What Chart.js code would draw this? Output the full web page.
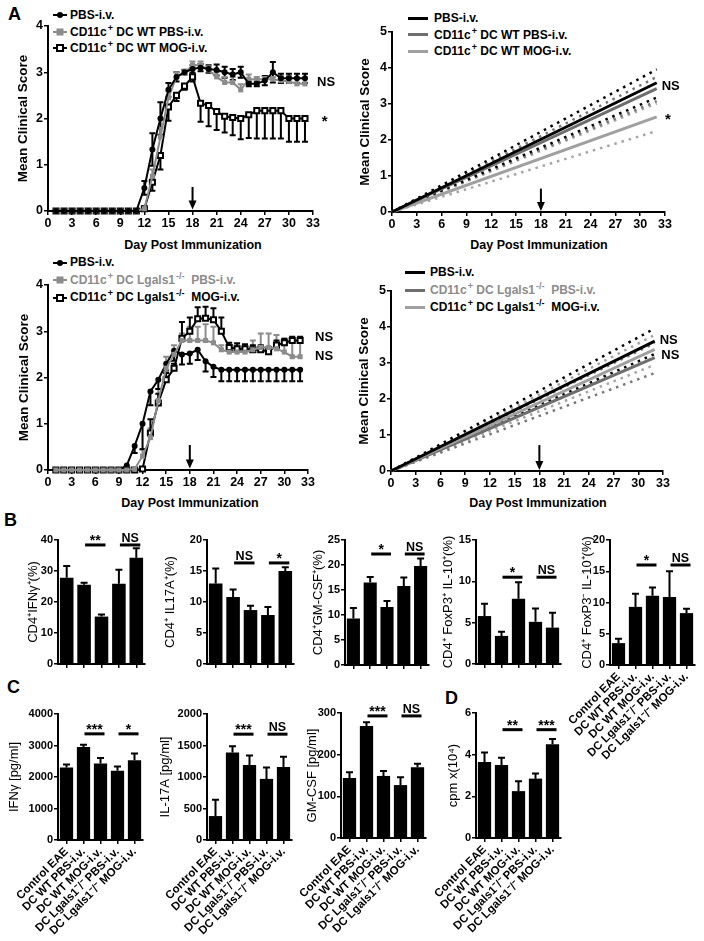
<!DOCTYPE html>
<html lang="en">
<head>
<meta charset="UTF-8">
<meta name="viewport" content="width=device-width, initial-scale=1.0">
<title>EAE clinical scores and T cell responses</title>
<script src="https://cdn.jsdelivr.net/npm/chart.js@4.4.1/dist/chart.umd.min.js"></script>
<style>
  body { margin: 0; background: #fff; }
  #page { position: relative; width: 704px; height: 941px; overflow: hidden;
          font-family: "Liberation Sans", Arial, Helvetica, sans-serif; color: #000; }
  #page canvas { position: absolute; }
  .tag { position: absolute; font-weight: bold; font-size: 18px; line-height: 18px; }
  .xt { position: absolute; font-weight: bold; font-size: 12.5px; line-height: 14px;
        white-space: nowrap; transform: translateX(-50%); }
  .lg { position: absolute; font-weight: bold; font-size: 12px; white-space: nowrap; }
  .lg div { display: flex; align-items: center; }
  .lg sup { font-size: 9px; line-height: 0; vertical-align: 5px; margin-left: 1px; }
  .sw { position: relative; flex: none; height: 2px; background: #000; }
  .sw b { position: absolute; left: 50%; top: 50%; transform: translate(-50%, -50%); }
  .dot b { width: 6px; height: 6px; border-radius: 50%; background: #000; }
  .gsq { background: #8c8c8c; }
  .gsq b { width: 7px; height: 7px; background: #8c8c8c; }
  .osq b { width: 4px; height: 4px; border: 2px solid #000; background: #fff; }
  .gray { color: #8c8c8c; }
</style>
</head>
<body>
<div id="page">
  <div class="tag" style="left:8px;top:5px">A</div>
  <div class="tag" style="left:4px;top:511px">B</div>
  <div class="tag" style="left:7px;top:678px">C</div>
  <div class="tag" style="left:445px;top:689px">D</div>

  <!-- legends, panel A -->
  <div class="lg" style="left:53px;top:7px;line-height:16.5px">
    <div><span class="sw dot" style="width:14px;margin-right:3px"><b></b></span><span>PBS-i.v.</span></div>
    <div><span class="sw gsq" style="width:14px;margin-right:3px"><b></b></span><span>CD11c<sup>+</sup> DC WT PBS-i.v.</span></div>
    <div><span class="sw osq" style="width:14px;margin-right:3px"><b></b></span><span>CD11c<sup>+</sup> DC WT MOG-i.v.</span></div>
  </div>
  <div class="lg" style="left:408px;top:10px;line-height:16.5px">
    <div><span class="sw" style="width:20px;height:3px;margin-right:6px"></span><span>PBS-i.v.</span></div>
    <div><span class="sw" style="width:20px;height:3px;margin-right:6px;background:#6e6e6e"></span><span>CD11c<sup>+</sup> DC WT PBS-i.v.</span></div>
    <div><span class="sw" style="width:20px;height:3px;margin-right:6px;background:#a0a0a0"></span><span>CD11c<sup>+</sup> DC WT MOG-i.v.</span></div>
  </div>
  <div class="lg" style="left:53px;top:254px;line-height:17.5px">
    <div><span class="sw dot" style="width:14px;margin-right:3px"><b></b></span><span>PBS-i.v.</span></div>
    <div class="gray"><span class="sw gsq" style="width:14px;margin-right:3px"><b></b></span><span>CD11c<sup>+</sup> DC Lgals1<sup>-/-</sup>&nbsp;&nbsp;PBS-i.v.</span></div>
    <div><span class="sw osq" style="width:14px;margin-right:3px"><b></b></span><span>CD11c<sup>+</sup> DC Lgals1<sup>-/-</sup>&nbsp;&nbsp;MOG-i.v.</span></div>
  </div>
  <div class="lg" style="left:405px;top:264px;line-height:17.5px">
    <div><span class="sw" style="width:20px;height:3px;margin-right:5px"></span><span>PBS-i.v.</span></div>
    <div class="gray"><span class="sw" style="width:20px;height:3px;margin-right:5px;background:#6e6e6e"></span><span>CD11c<sup>+</sup> DC Lgals1<sup>-/-</sup>&nbsp;&nbsp;PBS-i.v.</span></div>
    <div><span class="sw" style="width:20px;height:3px;margin-right:5px;background:#a0a0a0"></span><span>CD11c<sup>+</sup> DC Lgals1<sup>-/-</sup>&nbsp;&nbsp;MOG-i.v.</span></div>
  </div>

  <div class="xt" style="left:193px;top:238px">Day Post Immunization</div>
  <div class="xt" style="left:539px;top:238px">Day Post Immunization</div>
  <div class="xt" style="left:190px;top:496px">Day Post Immunization</div>
  <div class="xt" style="left:538px;top:496px">Day Post Immunization</div>
</div>

<script>
const FONT = '"Liberation Sans", Arial, Helvetica, sans-serif';
Chart.defaults.font.family = FONT;
Chart.defaults.color = '#000';

// ---- Panel A: mean clinical score per day ----
const days = [1, 2, 3, 4, 5, 6, 7, 8, 9, 10, 11, 12, 13, 14, 15, 16,
              17, 18, 19, 20, 21, 22, 23, 24, 25, 26, 27, 28, 29, 30, 31, 32];

// top row: WT dendritic cells
const wtPbs      = [0,0,0,0,0,0,0,0,0,0,0, 0.5,1.33,2.0,2.62,2.9,3.0,3.07,3.1,3.07,3.05,3.0,2.95,3.0,2.75,2.75,2.82,3.0,2.87,2.87,2.87,2.87];
const wtPbsErr   = [0,0,0,0,0,0,0,0,0,0,0, 0.15,0.35,0.35,0.15,0.1,0.05,0.08,0.08,0.08,0.12,0.12,0.12,0.12,0.05,0.05,0.1,0.22,0.1,0.1,0.1,0.1];
const wtDcPbs    = [0,0,0,0,0,0,0,0,0,0,0, 0.05,0.75,1.6,2.45,2.9,2.98,3.15,3.15,3.05,2.9,2.78,2.78,2.62,2.85,2.85,2.85,2.85,2.82,2.8,2.75,2.75];
const wtDcPbsErr = [0,0,0,0,0,0,0,0,0,0,0, 0.05,0.15,0.2,0.15,0.1,0.08,0.08,0.08,0.08,0.1,0.12,0.12,0.12,0.1,0.05,0.05,0.05,0.1,0.12,0.12,0.12];
const wtDcMog    = [0,0,0,0,0,0,0,0,0,0,0, 0.05,0.62,1.2,2.25,2.5,2.7,2.9,2.33,2.28,2.15,2.05,2.02,2.0,2.08,2.17,2.17,2.17,2.17,2.0,2.0,2.0];
const wtDcMogErr = [0,0,0,0,0,0,0,0,0,0,0, 0,0.18,0.3,0.3,0.12,0.08,0.1,0.4,0.45,0.4,0.35,0.38,0.45,0.5,0.6,0.6,0.6,0.6,0.5,0.5,0.5];

// bottom row: Lgals1-/- dendritic cells
const koPbs      = [0,0,0,0,0,0,0,0,0, 0.1,0.52,1.0,1.7,1.95,2.3,2.58,2.5,2.52,2.6,2.35,2.23, 2.17,2.17,2.17,2.17,2.17,2.17,2.17,2.17,2.17,2.17,2.17];
const koPbsErr   = [0,0,0,0,0,0,0,0,0, 0.1,0.15,0.55,0.3,0.2,0.15,0.22,0.22,0.22,0.22,0.22,0.22, 0.25,0.25,0.25,0.25,0.25,0.25,0.25,0.25,0.25,0.25,0.25];
const koDcPbs    = [0,0,0,0,0,0,0,0,0,0, 0.02,0.3,0.7,1.5,2.2,2.5,2.8,2.8,2.8,2.8,2.75,2.6,2.55,2.55,2.55,2.6,2.65,2.65,2.62,2.55,2.45,2.45];
const koDcPbsErr = [0,0,0,0,0,0,0,0,0,0, 0,0.15,0.2,0.25,0.25,0.2,0.15,0.3,0.3,0.35,0.35,0.1,0.15,0.15,0.15,0.2,0.3,0.3,0.3,0.3,0.35,0.4];
const koDcMog    = [0,0,0,0,0,0,0,0,0,0,0, 0.02,0.8,1.45,1.95,2.2,2.85,3.0,3.27,3.28,3.25,3.0,2.65,2.62,2.62,2.6,2.6,2.56,2.7,2.75,2.8,2.8];
const koDcMogErr = [0,0,0,0,0,0,0,0,0,0,0, 0,0.3,0.2,0.15,0.1,0.35,0.3,0.25,0.25,0.25,0.3,0.1,0.12,0.1,0.1,0.1,0.1,0.1,0.08,0.08,0.08];

// linear fits (start day, end day) with 95% bands
const fitDays   = [0, 32];
const wtPbsFit  = [0, 3.59], wtPbsLo  = [0, 3.18], wtPbsHi  = [0, 3.96];
const wtDcPbsFit= [0, 3.43], wtDcPbsLo= [0, 3.08], wtDcPbsHi= [0, 3.75];
const wtDcMogFit= [0, 2.64], wtDcMogLo= [0, 2.25], wtDcMogHi= [0, 3.02];
const koPbsFit  = [0, 3.61], koPbsLo  = [0, 3.25], koPbsHi  = [0, 3.96];
const koDcPbsFit= [0, 3.15], koDcPbsLo= [0, 2.72], koDcPbsHi= [0, 3.55];
const koDcMogFit= [0, 3.38], koDcMogLo= [0, 2.95], koDcMogHi= [0, 3.78];

// ---- Panels B-D: group means and top of error bar ----
const groups = ['Control EAE', 'DC WT PBS-i.v.', 'DC WT MOG-i.v.', 'DC Lgals1⁻/⁻ PBS-i.v.', 'DC Lgals1⁻/⁻ MOG-i.v.'];
const ifngPct  = [27.8, 25.6, 15.3, 25.9, 34.3], ifngPctErr  = [31.6, 26.2, 16.0, 30.4, 37.3];
const il17Pct  = [13.0, 10.8, 8.7, 7.9, 15.0],   il17PctErr  = [15.4, 12.0, 9.4, 9.2, 15.6];
const gmcsfPct = [9.3, 16.5, 11.6, 15.8, 19.8],  gmcsfPctErr = [11.4, 17.6, 12.8, 17.5, 21.3];
const il10FoxPos = [5.8, 3.4, 7.9, 5.1, 4.4],    il10FoxPosErr = [7.3, 3.9, 9.9, 6.7, 6.2];
const il10FoxNeg = [3.5, 9.3, 11.1, 10.9, 8.3],  il10FoxNegErr = [4.2, 11.4, 12.4, 15.0, 9.0];
const ifngConc = [2300, 2950, 2430, 2200, 2530], ifngConcErr = [2400, 3020, 2600, 2330, 2750];
const il17Conc = [380, 1390, 1190, 970, 1160],   il17ConcErr = [640, 1490, 1340, 1150, 1320];
const gmcsfConc = [144, 269, 149, 127, 170],     gmcsfConcErr = [158, 278, 161, 146, 178];
const prolif = [3.65, 3.5, 2.25, 2.85, 4.5],     prolifErr = [4.1, 3.85, 2.72, 3.1, 4.75];

// ---- drawing helpers ----
const extras = {
  id: 'extras',
  beforeDatasetsDraw(chart) {
    const ctx = chart.ctx, y = chart.scales.y;
    ctx.save();
    ctx.lineWidth = 2;
    chart.data.datasets.forEach((ds, i) => {
      if (!ds.errors) return;
      ctx.strokeStyle = ds.errColor || '#000';
      const cap = ds.errCap || 3;
      chart.getDatasetMeta(i).data.forEach((el, j) => {
        const e = ds.errors[j];
        if (!e) return;
        const v = typeof ds.data[j] === 'object' ? ds.data[j].y : ds.data[j];
        let lo = v, hi = v;
        if (ds.errDir === 'top') hi = e;
        else {
          if (ds.errDir >= 0) hi = v + e;
          if (ds.errDir <= 0) lo = v - e;
        }
        const yl = y.getPixelForValue(lo), yh = y.getPixelForValue(hi);
        ctx.beginPath();
        ctx.moveTo(el.x, yl); ctx.lineTo(el.x, yh);
        if (hi !== v) { ctx.moveTo(el.x - cap, yh); ctx.lineTo(el.x + cap, yh); }
        if (lo !== v) { ctx.moveTo(el.x - cap, yl); ctx.lineTo(el.x + cap, yl); }
        ctx.stroke();
      });
    });
    ctx.restore();
  },
  afterDatasetsDraw(chart, args, o) {
    const ctx = chart.ctx, x = chart.scales.x, y = chart.scales.y;
    ctx.save();
    ctx.fillStyle = ctx.strokeStyle = '#000';
    if (o.arrow) {
      const ax = x.getPixelForValue(o.arrow.x);
      const y0 = y.getPixelForValue(o.arrow.from), y1 = y.getPixelForValue(o.arrow.to);
      ctx.lineWidth = 2;
      ctx.beginPath(); ctx.moveTo(ax, y0); ctx.lineTo(ax, y1 - 7); ctx.stroke();
      ctx.beginPath(); ctx.moveTo(ax - 4, y1 - 9); ctx.lineTo(ax + 4, y1 - 9); ctx.lineTo(ax, y1); ctx.closePath(); ctx.fill();
    }
    (o.notes || []).forEach(n => {
      ctx.font = `bold ${n.text === 'NS' ? 13 : 15}px ${FONT}`;
      ctx.textAlign = 'left'; ctx.textBaseline = 'middle';
      ctx.fillText(n.text, x.getPixelForValue(n.x), y.getPixelForValue(n.y));
    });
    (o.sig || []).forEach(s => {
      const xa = x.getPixelForValue(s.a) + 1, xb = x.getPixelForValue(s.b) + 4, ly = y.getPixelForValue(s.y);
      ctx.lineWidth = 3;
      ctx.beginPath(); ctx.moveTo(xa, ly); ctx.lineTo(xb, ly); ctx.stroke();
      const ns = s.text === 'NS';
      ctx.font = `bold ${ns ? 12.5 : 14}px ${FONT}`;
      ctx.textAlign = 'center'; ctx.textBaseline = 'alphabetic';
      ctx.fillText(s.text, (xa + xb) / 2, ly - (ns ? 3 : 0));
    });
    ctx.restore();
  }
};

const border = {display: true, color: '#000', width: 2};
const marks = {drawOnChartArea: false, color: '#000', lineWidth: 1.5, tickLength: 4};
const tickFont = {family: FONT, weight: 'bold', size: 11};
const tickFontA = {family: FONT, weight: 'bold', size: 12.5};
const plain = v => String(v);

function yAxis(max, step, title, titleCenter, box, big) {
  const size = big ? 13.5 : 13;
  return {
    type: 'linear', min: 0, max,
    border, grid: marks,
    ticks: {stepSize: step, font: big ? tickFontA : tickFont, color: '#000', padding: 1, callback: plain},
    title: {display: true, text: title, color: '#000',
            padding: {top: titleCenter - box.x - size * 0.6, bottom: 0},
            font: {family: FONT, size, weight: big ? 'bold' : 'normal'}}
  };
}
function xDays() {
  return {type: 'linear', min: 0, max: 33, border, grid: marks,
          ticks: {stepSize: 3, font: tickFontA, color: '#000', padding: 1, callback: plain}};
}
function xGroups(showLabels) {
  return {
    type: 'category', offset: true, border,
    grid: {offset: false, drawOnChartArea: false, color: '#000', lineWidth: 1.5, tickLength: 4},
    ticks: showLabels
      ? {font: {family: FONT, weight: 'bold', size: 11.5}, color: '#000', autoSkip: false,
         minRotation: 45, maxRotation: 45, padding: 1}
      : {autoSkip: false, callback: () => ''}
  };
}

function build(box, area, type, datasets, xs, ys, extra, labels) {
  const cv = document.createElement('canvas');
  cv.width = box.w; cv.height = box.h;
  cv.style.left = box.x + 'px'; cv.style.top = box.y + 'px';
  document.getElementById('page').appendChild(cv);
  xs.afterFit = s => { s.height = box.y + box.h - area.b; };
  ys.afterFit = s => { s.width = area.l - box.x; };
  return new Chart(cv, {
    type,
    data: {labels, datasets},
    options: {
      responsive: false, animation: false, events: [],
      layout: {padding: {left: 0, top: area.t - box.y, right: box.x + box.w - area.r, bottom: 0}},
      scales: {x: xs, y: ys},
      plugins: {legend: {display: false}, tooltip: {enabled: false}, extras: extra}
    },
    plugins: [extras]
  });
}

const pts = vals => days.map((d, i) => ({x: d, y: vals[i]}));
const fit = vals => fitDays.map((d, i) => ({x: d, y: vals[i]}));

function series(vals, errs, dir, kind) {
  const base = {data: pts(vals), errors: errs, errDir: dir, borderWidth: 2, clip: false,
                tension: 0, errCap: 3};
  if (kind === 'dot') return Object.assign(base, {borderColor: '#000', pointStyle: 'circle', pointRadius: 3,
                                                  pointBackgroundColor: '#000', pointBorderWidth: 0});
  if (kind === 'gray') return Object.assign(base, {borderColor: '#8c8c8c', errColor: '#8c8c8c', pointStyle: 'rect',
                                                   pointRadius: 3.6, pointBackgroundColor: '#8c8c8c', pointBorderWidth: 0});
  return Object.assign(base, {borderColor: '#000', pointStyle: 'rect', pointRadius: 3.6,
                              pointBackgroundColor: '#fff', pointBorderColor: '#000', pointBorderWidth: 2});
}
function fitLine(vals, color, dotted) {
  return {data: fit(vals), borderColor: color, pointRadius: 0, clip: false,
          borderWidth: dotted ? 2.5 : 3, borderDash: dotted ? [2.5, 5] : []};
}
function bars(vals, errTop) {
  return {data: vals, errors: errTop, errDir: 'top', errCap: 3.5, backgroundColor: '#000',
          borderWidth: 0, barPercentage: 0.78, categoryPercentage: 1};
}

// ---- Panel A ----
let box = {x: 0, y: 0, w: 360, h: 255};
build(box, {l: 48, t: 26, r: 313, b: 211}, 'line',
  [series(wtPbs, wtPbsErr, 0, 'dot'), series(wtDcPbs, wtDcPbsErr, 1, 'gray'), series(wtDcMog, wtDcMogErr, -1, 'open')],
  xDays(), yAxis(4, 1, 'Mean Clinical Score', 23, box, true),
  {arrow: {x: 18, from: 0.52, to: 0.03}, notes: [{x: 33.5, y: 2.78, text: 'NS'}, {x: 34.1, y: 1.93, text: '*'}]});

box = {x: 352, y: 0, w: 352, h: 255};
build(box, {l: 392, t: 32, r: 665, b: 212}, 'line',
  [fitLine(wtPbsFit, '#000'), fitLine(wtDcPbsFit, '#6e6e6e'), fitLine(wtDcMogFit, '#a0a0a0'),
   fitLine(wtPbsHi, '#000', 1), fitLine(wtPbsLo, '#000', 1),
   fitLine(wtDcPbsHi, '#777', 1), fitLine(wtDcPbsLo, '#777', 1),
   fitLine(wtDcMogHi, '#a5a5a5', 1), fitLine(wtDcMogLo, '#a5a5a5', 1)],
  xDays(), yAxis(5, 1, 'Mean Clinical Score', 365, box, true),
  {arrow: {x: 18, from: 0.65, to: 0.03}, notes: [{x: 32.6, y: 3.5, text: 'NS'}, {x: 33.0, y: 2.55, text: '*'}]});

box = {x: 0, y: 255, w: 360, h: 260};
build(box, {l: 48, t: 285, r: 308, b: 470}, 'line',
  [series(koDcPbs, koDcPbsErr, 1, 'gray'), series(koPbs, koPbsErr, -1, 'dot'), series(koDcMog, koDcMogErr, 1, 'open')],
  xDays(), yAxis(4, 1, 'Mean Clinical Score', 24, box, true),
  {arrow: {x: 18, from: 0.54, to: 0.03}, notes: [{x: 33.9, y: 2.87, text: 'NS'}, {x: 33.9, y: 2.45, text: 'NS'}]});

box = {x: 352, y: 255, w: 352, h: 260};
build(box, {l: 391, t: 291, r: 663, b: 471}, 'line',
  [fitLine(koPbsFit, '#000'), fitLine(koDcMogFit, '#a0a0a0'), fitLine(koDcPbsFit, '#6e6e6e'),
   fitLine(koPbsHi, '#000', 1), fitLine(koPbsLo, '#000', 1),
   fitLine(koDcPbsHi, '#777', 1), fitLine(koDcPbsLo, '#777', 1),
   fitLine(koDcMogHi, '#a5a5a5', 1), fitLine(koDcMogLo, '#a5a5a5', 1)],
  xDays(), yAxis(5, 1, 'Mean Clinical Score', 364, box, true),
  {arrow: {x: 18, from: 0.72, to: 0.03}, notes: [{x: 32.6, y: 3.62, text: 'NS'}, {x: 32.8, y: 3.2, text: 'NS'}]});

// ---- Panel B ----
box = {x: 0, y: 520, w: 150, h: 155};
build(box, {l: 58, t: 540, r: 145, b: 664}, 'bar', [bars(ifngPct, ifngPctErr)],
  xGroups(false), yAxis(40, 10, 'CD4⁺IFNγ⁺(%)', 33, box),
  {sig: [{a: 1, b: 2, y: 38.4, text: '**'}, {a: 3, b: 4, y: 38.4, text: 'NS'}]}, groups);

box = {x: 150, y: 520, w: 145, h: 155};
build(box, {l: 207, t: 540, r: 294, b: 664}, 'bar', [bars(il17Pct, il17PctErr)],
  xGroups(false), yAxis(20, 5, 'CD4⁺ IL17A⁺(%)', 170, box),
  {sig: [{a: 1, b: 2, y: 16.3, text: 'NS'}, {a: 3, b: 4, y: 16.3, text: '*'}]}, groups);

box = {x: 290, y: 520, w: 140, h: 155};
build(box, {l: 345, t: 540, r: 429, b: 665}, 'bar', [bars(gmcsfPct, gmcsfPctErr)],
  xGroups(false), yAxis(25, 5, 'CD4⁺GM-CSF⁺(%)', 318, box),
  {sig: [{a: 1, b: 2, y: 22.2, text: '*'}, {a: 3, b: 4, y: 22.2, text: 'NS'}]}, groups);

box = {x: 425, y: 520, w: 140, h: 155};
build(box, {l: 476, t: 540, r: 561, b: 664}, 'bar', [bars(il10FoxPos, il10FoxPosErr)],
  xGroups(false), yAxis(15, 5, 'CD4⁺ FoxP3⁺ IL-10⁺(%)', 448, box),
  {sig: [{a: 1, b: 2, y: 10.5, text: '*'}, {a: 3, b: 4, y: 10.5, text: 'NS'}]}, groups);

box = {x: 560, y: 520, w: 144, h: 260};
build(box, {l: 610, t: 540, r: 695, b: 665}, 'bar', [bars(il10FoxNeg, il10FoxNegErr)],
  xGroups(true), yAxis(20, 5, 'CD4⁺ FoxP3⁻ IL-10⁺(%)', 587, box),
  {sig: [{a: 1, b: 2, y: 16.0, text: '*'}, {a: 3, b: 4, y: 16.0, text: 'NS'}]}, groups);

// ---- Panel C ----
box = {x: 0, y: 690, w: 160, h: 251};
build(box, {l: 58, t: 714, r: 143, b: 840}, 'bar', [bars(ifngConc, ifngConcErr)],
  xGroups(true), yAxis(4000, 1000, 'IFNγ [pg/ml]', 14, box),
  {sig: [{a: 1, b: 2, y: 3370, text: '***'}, {a: 3, b: 4, y: 3370, text: '*'}]}, groups);

box = {x: 150, y: 690, w: 150, h: 251};
build(box, {l: 207, t: 714, r: 292, b: 840}, 'bar', [bars(il17Conc, il17ConcErr)],
  xGroups(true), yAxis(2000, 500, 'IL-17A [pg/ml]', 165, box),
  {sig: [{a: 1, b: 2, y: 1680, text: '***'}, {a: 3, b: 4, y: 1680, text: 'NS'}]}, groups);

box = {x: 290, y: 690, w: 145, h: 251};
build(box, {l: 341, t: 713, r: 426, b: 838}, 'bar', [bars(gmcsfConc, gmcsfConcErr)],
  xGroups(true), yAxis(300, 100, 'GM-CSF [pg/ml]', 312, box),
  {sig: [{a: 1, b: 2, y: 293, text: '***'}, {a: 3, b: 4, y: 293, text: 'NS'}]}, groups);

// ---- Panel D ----
box = {x: 420, y: 690, w: 150, h: 251};
build(box, {l: 476, t: 713, r: 561, b: 838}, 'bar', [bars(prolif, prolifErr)],
  xGroups(true), yAxis(6, 2, 'cpm x(10⁴)', 453, box),
  {sig: [{a: 1, b: 2, y: 5.2, text: '**'}, {a: 3, b: 4, y: 5.2, text: '***'}]}, groups);
</script>
</body>
</html>
